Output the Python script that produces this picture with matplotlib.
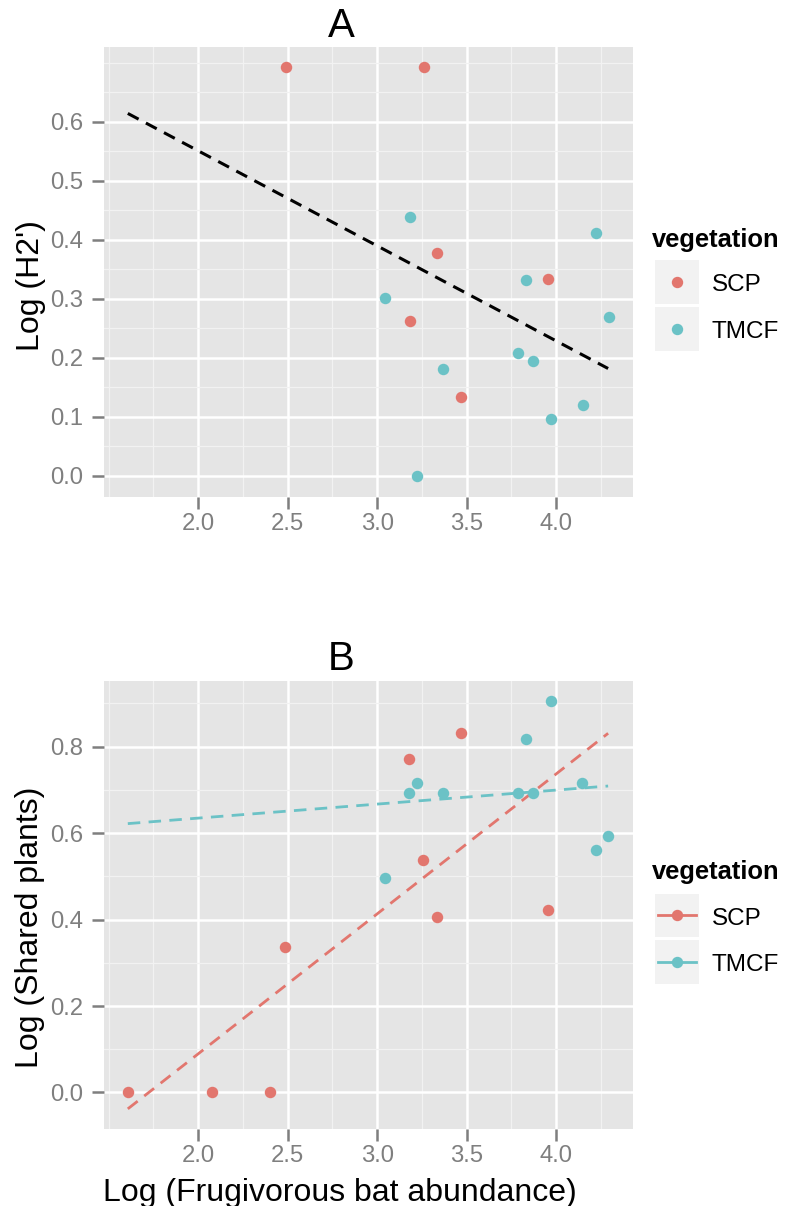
import matplotlib
matplotlib.use("Agg")
import matplotlib.pyplot as plt
from matplotlib.patches import Rectangle
from matplotlib.lines import Line2D

plt.rcParams['font.family'] = ['Liberation Sans', 'DejaVu Sans']

# ---- data ----
a_scp_x = [2.488, 3.259, 3.333, 3.954, 3.181, 3.468]
a_scp_y = [0.693, 0.693, 0.377, 0.333, 0.262, 0.134]
a_tmcf_x = [3.181, 4.225, 3.831, 3.046, 4.295, 3.786, 3.871, 3.369, 4.147, 3.972, 3.222]
a_tmcf_y = [0.438, 0.412, 0.332, 0.302, 0.270, 0.209, 0.195, 0.182, 0.121, 0.096, 0.000]
a_fit_x = [1.607, 4.290]
a_fit_y = [0.614, 0.182]

b_scp_x = [1.607, 2.080, 2.399, 2.487, 3.180, 3.467, 3.258, 3.333, 3.952]
b_scp_y = [0.000, 0.000, 0.000, 0.336, 0.772, 0.832, 0.538, 0.405, 0.421]
b_tmcf_x = [3.045, 3.180, 3.221, 3.368, 3.785, 3.872, 3.829, 3.970, 4.143, 4.221, 4.290]
b_tmcf_y = [0.496, 0.692, 0.716, 0.692, 0.692, 0.692, 0.817, 0.906, 0.716, 0.560, 0.594]
b_scp_fit_x = [1.607, 4.290]
b_scp_fit_y = [-0.038, 0.831]
b_tmcf_fit_x = [1.607, 4.290]
b_tmcf_fit_y = [0.622, 0.709]

groups = ['SCP', 'TMCF']
colors = {'SCP': '#E2766E', 'TMCF': '#6BC2C6'}

x_ticks = [2.0, 2.5, 3.0, 3.5, 4.0]
x_minor = [1.5, 1.75, 2.25, 2.75, 3.25, 3.75, 4.25]
a_yticks = [0.0, 0.1, 0.2, 0.3, 0.4, 0.5, 0.6]
a_yminor = [0.05, 0.15, 0.25, 0.35, 0.45, 0.55, 0.65, 0.7]
b_yticks = [0.0, 0.2, 0.4, 0.6, 0.8]
b_yminor = [0.1, 0.3, 0.5, 0.7, 0.9]

W, H = 785, 1206
fig = plt.figure(figsize=(W / 100, H / 100), dpi=100)


def box(l, t, r, b):
    return [l / W, 1 - b / H, (r - l) / W, (b - t) / H]


def style(ax, ylim, yticks, yminor):
    ax.set_facecolor('#E5E5E5')
    ax.set_xlim(1.474, 4.429)
    ax.set_ylim(*ylim)
    ax.set_xticks(x_ticks)
    ax.set_xticks(x_minor, minor=True)
    ax.set_yticks(yticks)
    ax.set_yticks(yminor, minor=True)
    ax.set_xticklabels(['%.1f' % v for v in x_ticks])
    ax.set_yticklabels(['%.1f' % v for v in yticks])
    ax.grid(which='minor', color='#F2F2F2', lw=0.9)
    ax.grid(which='major', color='white', lw=1.8)
    ax.set_axisbelow(True)
    for s in ax.spines.values():
        s.set_visible(False)
    ax.tick_params(which='major', length=8.6, width=1.8, color='#7F7F7F',
                   labelcolor='#7F7F7F', labelsize=17.2)
    ax.tick_params(axis='x', pad=3)
    ax.tick_params(axis='y', pad=6.5)
    ax.tick_params(which='minor', length=0)


axA = fig.add_axes(box(104, 47, 633, 497))
style(axA, (-0.0356, 0.7265), a_yticks, a_yminor)
axA.plot(a_fit_x, a_fit_y, color='black', lw=2.2, ls=(0, (4, 2.7)), zorder=2)
axA.scatter(a_scp_x, a_scp_y, s=68, color=colors['SCP'], lw=0, zorder=3)
axA.scatter(a_tmcf_x, a_tmcf_y, s=68, color=colors['TMCF'], lw=0, zorder=3)

axB = fig.add_axes(box(104, 681, 633, 1129))
style(axB, (-0.0846, 0.952), b_yticks, b_yminor)
axB.plot(b_scp_fit_x, b_scp_fit_y, color=colors['SCP'], lw=2.0, ls=(0, (4.5, 3)), zorder=2)
axB.plot(b_tmcf_fit_x, b_tmcf_fit_y, color=colors['TMCF'], lw=2.0, ls=(0, (4.5, 3)), zorder=2)
axB.scatter(b_scp_x, b_scp_y, s=68, color=colors['SCP'], lw=0, zorder=3)
axB.scatter(b_tmcf_x, b_tmcf_y, s=68, color=colors['TMCF'], lw=0, zorder=3)

# overlay in pixel coordinates for titles, labels and legends
ov = fig.add_axes([0, 0, 1, 1], zorder=5)
ov.set_xlim(0, W)
ov.set_ylim(H, 0)
ov.axis('off')
ov.patch.set_alpha(0)

ov.text(341, 36.7, 'A', fontsize=29, ha='center', va='baseline')
ov.text(341, 670.5, 'B', fontsize=29, ha='center', va='baseline')
ov.text(38.5, 286, "Log (H2')", fontsize=23, rotation=90, rotation_mode='anchor',
        ha='center', va='baseline')
ov.text(38.5, 927.5, 'Log (Shared plants)', fontsize=23, rotation=90,
        rotation_mode='anchor', ha='center', va='baseline')
ov.text(340, 1201, 'Log (Frugivorous bat abundance)', fontsize=23,
        ha='center', va='baseline')


def legend(title_base, tops, with_line):
    ov.text(652, title_base, 'vegetation', fontsize=18.4, fontweight='bold',
            ha='left', va='baseline')
    for g, top in zip(groups, tops):
        ov.add_patch(Rectangle((655, top), 44, 43.5, facecolor='#F2F2F2',
                               edgecolor='none'))
        cy = top + 21.75
        if with_line:
            ov.add_line(Line2D([658, 696], [cy, cy], color=colors[g], lw=2.0))
        ov.add_line(Line2D([677], [cy], marker='o', markersize=8.2,
                           markeredgewidth=0, color=colors[g]))
        ov.text(711.7, cy + 9.3, g, fontsize=17.5, ha='left', va='baseline')


legend(246.5, [260, 307], False)
legend(879.3, [893.5, 940], True)

fig.savefig('out.png', dpi=100)
